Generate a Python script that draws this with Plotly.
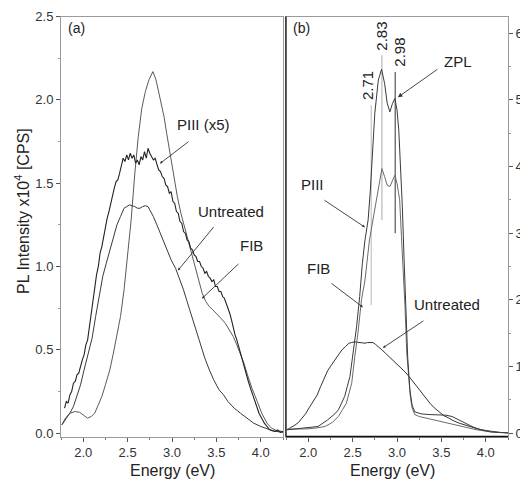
import plotly.graph_objects as go

# ---------------- data: panel (a) ----------------
piii_a_e = [1.79, 1.81, 1.83, 1.85, 1.87, 1.89, 1.91, 1.93, 1.95, 1.97, 1.99, 2.01, 2.03, 2.05, 2.07, 2.09,
            2.11, 2.13, 2.15, 2.17, 2.19, 2.21, 2.23, 2.25, 2.27, 2.29, 2.31, 2.33, 2.35, 2.37, 2.39, 2.41,
            2.43, 2.45, 2.47, 2.49, 2.51, 2.53, 2.55, 2.57, 2.59, 2.61, 2.63, 2.65, 2.67, 2.69, 2.71, 2.73,
            2.75, 2.77, 2.79, 2.81, 2.83, 2.85, 2.87, 2.89, 2.91, 2.93, 2.95, 2.97, 2.99, 3.01, 3.03, 3.05,
            3.07, 3.09, 3.11, 3.13, 3.15, 3.17, 3.19, 3.21, 3.23, 3.25, 3.27, 3.29, 3.31, 3.33, 3.35, 3.37,
            3.39, 3.41, 3.43, 3.45, 3.47, 3.49, 3.51, 3.53, 3.55, 3.57, 3.59, 3.61, 3.63, 3.65, 3.67, 3.69,
            3.71, 3.73, 3.75, 3.77, 3.80, 3.83, 3.86, 3.89, 3.92, 3.95, 3.98, 4.01, 4.04, 4.07, 4.10, 4.13,
            4.16, 4.19, 4.22, 4.25]
piii_a_v = [0.15, 0.19, 0.18, 0.23, 0.25, 0.30, 0.31, 0.35, 0.36, 0.41, 0.44, 0.47, 0.53, 0.56, 0.64, 0.70,
            0.78, 0.86, 0.95, 1.00, 1.08, 1.12, 1.18, 1.22, 1.29, 1.33, 1.38, 1.44, 1.47, 1.51, 1.52, 1.56,
            1.60, 1.65, 1.63, 1.67, 1.64, 1.68, 1.65, 1.67, 1.62, 1.64, 1.61, 1.66, 1.64, 1.69, 1.65, 1.71,
            1.68, 1.66, 1.64, 1.65, 1.61, 1.58, 1.57, 1.54, 1.53, 1.49, 1.48, 1.44, 1.45, 1.39, 1.38, 1.33,
            1.32, 1.27, 1.26, 1.21, 1.20, 1.16, 1.15, 1.11, 1.10, 1.07, 1.06, 1.03, 1.03, 1.00, 0.99, 0.96,
            0.97, 0.94, 0.93, 0.91, 0.92, 0.88, 0.88, 0.85, 0.85, 0.82, 0.81, 0.78, 0.76, 0.72, 0.68, 0.63,
            0.59, 0.56, 0.52, 0.49, 0.43, 0.37, 0.31, 0.26, 0.21, 0.17, 0.12, 0.09, 0.06, 0.04, 0.02, 0.015,
            0.01, 0.02, 0.005, 0.01]

fib_a_e = [1.76, 1.80, 1.85, 1.91, 1.96, 2.00, 2.05, 2.09, 2.13, 2.17, 2.21, 2.25, 2.30, 2.34, 2.38, 2.42,
           2.46, 2.50, 2.54, 2.58, 2.62, 2.66, 2.70, 2.74, 2.785, 2.82, 2.87, 2.91, 2.94, 2.98, 3.02, 3.06,
           3.10, 3.14, 3.18, 3.22, 3.26, 3.30, 3.34, 3.38, 3.42, 3.46, 3.50, 3.55, 3.60, 3.65, 3.69, 3.73,
           3.77, 3.81, 3.85, 3.90, 3.96, 4.01, 4.07, 4.12, 4.18, 4.25]
fib_a_v = [0.05, 0.09, 0.12, 0.13, 0.125, 0.11, 0.09, 0.10, 0.12, 0.17, 0.22, 0.29, 0.38, 0.48, 0.58, 0.70,
           0.86, 1.05, 1.28, 1.55, 1.78, 1.95, 2.05, 2.12, 2.17, 2.12, 2.00, 1.90, 1.80, 1.67, 1.54, 1.42,
           1.32, 1.24, 1.16, 1.08, 1.00, 0.92, 0.84, 0.79, 0.76, 0.74, 0.72, 0.69, 0.66, 0.62, 0.58, 0.53,
           0.48, 0.42, 0.35, 0.27, 0.19, 0.12, 0.06, 0.03, 0.015, 0.01]

untreated_e = [1.76, 1.80, 1.85, 1.89, 1.93, 1.97, 2.01, 2.05, 2.10, 2.14, 2.18, 2.22, 2.26, 2.30, 2.34, 2.38,
               2.42, 2.46, 2.49, 2.52, 2.55, 2.58, 2.61, 2.64, 2.67, 2.70, 2.73, 2.76, 2.79, 2.83, 2.87, 2.91,
               2.95, 2.99, 3.04, 3.09, 3.13, 3.17, 3.21, 3.25, 3.29, 3.33, 3.37, 3.42, 3.47, 3.53, 3.58, 3.63,
               3.70, 3.77, 3.85, 3.92, 4.00, 4.07, 4.15, 4.25]
untreated_v = [0.05, 0.08, 0.12, 0.16, 0.22, 0.29, 0.38, 0.47, 0.57, 0.70, 0.83, 0.94, 1.02, 1.10, 1.18, 1.25,
               1.30, 1.35, 1.36, 1.37, 1.365, 1.36, 1.35, 1.35, 1.36, 1.365, 1.36, 1.33, 1.30, 1.25, 1.20, 1.15,
               1.09, 1.04, 0.99, 0.92, 0.86, 0.79, 0.72, 0.65, 0.58, 0.51, 0.45, 0.38, 0.32, 0.26, 0.23, 0.19,
               0.15, 0.12, 0.085, 0.06, 0.04, 0.025, 0.012, 0.005]

# ---------------- data: panel (b) ----------------
piii_b_e = [1.76, 1.90, 2.00, 2.11, 2.22, 2.30, 2.34, 2.38, 2.41, 2.44, 2.47, 2.51, 2.545, 2.58, 2.61, 2.64,
            2.675, 2.70, 2.72, 2.75, 2.79, 2.826, 2.86, 2.89, 2.92, 2.95, 2.976, 3.00, 3.02, 3.04, 3.06, 3.08,
            3.10, 3.12, 3.145, 3.17, 3.20, 3.27, 3.35, 3.45, 3.55, 3.62, 3.70, 3.78, 3.86, 3.95, 4.05, 4.15, 4.25]
piii_b_v = [0.05, 0.07, 0.08, 0.10, 0.20, 0.29, 0.35, 0.46, 0.55, 0.70, 0.85, 1.25, 1.60, 2.05, 2.55, 2.90,
            3.20, 3.65, 4.05, 4.80, 5.30, 5.46, 5.25, 4.95, 4.82, 4.95, 5.02, 4.85, 4.55, 4.00, 3.40, 2.60,
            1.80, 1.15, 0.65, 0.42, 0.32, 0.29, 0.28, 0.27, 0.27, 0.25, 0.20, 0.14, 0.09, 0.05, 0.02, 0.01, 0.005]

fib_b_e = [1.76, 1.90, 2.00, 2.10, 2.19, 2.27, 2.34, 2.39, 2.43, 2.46, 2.49, 2.525, 2.56, 2.60, 2.64, 2.69,
           2.75, 2.81, 2.83, 2.86, 2.89, 2.92, 2.95, 2.976, 3.00, 3.03, 3.05, 3.07, 3.09, 3.11, 3.13, 3.15,
           3.17, 3.20, 3.25, 3.35, 3.50, 3.65, 3.78, 3.90, 4.05, 4.25]
fib_b_v = [0.06, 0.06, 0.065, 0.08, 0.10, 0.16, 0.25, 0.36, 0.45, 0.60, 0.75, 1.15, 1.50, 2.00, 2.30, 2.90,
           3.35, 3.80, 3.97, 3.85, 3.72, 3.70, 3.80, 3.87, 3.75, 3.50, 2.95, 2.50, 1.90, 1.20, 0.80, 0.55,
           0.38, 0.28, 0.25, 0.22, 0.18, 0.13, 0.09, 0.05, 0.02, 0.005]

peak_pos = [2.71, 2.83, 2.98]
peak_labels = ["2.71", "2.83", "2.98"]
peak_line_lo = [1.92, 3.2, 3.0]
peak_line_hi = [4.92, 5.67, 5.42]
peak_line_colors = ["#c4c4c4", "#b8b8b8", "#555555"]
peak_label_shift = [-4, 0, 4]

x_ticks = [2.0, 2.5, 3.0, 3.5, 4.0]

W, H = 520, 482
FONT = "Liberation Sans, Arial, sans-serif"

fig = go.Figure()

# panel (a)
fig.add_trace(go.Scatter(x=fib_a_e, y=fib_a_v, mode="lines", line=dict(color="#5a5a5a", width=1),
                         xaxis="x", yaxis="y", showlegend=False, hoverinfo="skip"))
fig.add_trace(go.Scatter(x=untreated_e, y=untreated_v, mode="lines", line=dict(color="#3a3a3a", width=1),
                         xaxis="x", yaxis="y", showlegend=False, hoverinfo="skip"))
fig.add_trace(go.Scatter(x=piii_a_e, y=piii_a_v, mode="lines", line=dict(color="#222222", width=1.1),
                         xaxis="x", yaxis="y", showlegend=False, hoverinfo="skip"))

# panel (b) marker lines
for p, lo, hi, c in zip(peak_pos, peak_line_lo, peak_line_hi, peak_line_colors):
    fig.add_trace(go.Scatter(x=[p, p], y=[lo, hi], mode="lines", line=dict(color=c, width=1.2),
                             xaxis="x2", yaxis="y2", showlegend=False, hoverinfo="skip"))

fig.add_trace(go.Scatter(x=untreated_e, y=untreated_v, mode="lines", line=dict(color="#333333", width=1),
                         xaxis="x2", yaxis="y2", showlegend=False, hoverinfo="skip"))
fig.add_trace(go.Scatter(x=fib_b_e, y=fib_b_v, mode="lines", line=dict(color="#6a6a6a", width=1),
                         xaxis="x2", yaxis="y2", showlegend=False, hoverinfo="skip"))
fig.add_trace(go.Scatter(x=piii_b_e, y=piii_b_v, mode="lines", line=dict(color="#3a3a3a", width=1),
                         xaxis="x2", yaxis="y2", showlegend=False, hoverinfo="skip"))


def px(xp):
    return xp / W


def py(yp):
    return 1 - yp / H


ydom = [py(436.5), py(16.6)]
axis_common = dict(showgrid=False, zeroline=False, showline=True, linecolor="#9a9a9a", linewidth=1,
                   ticks="outside", tickcolor="#555", ticklen=4, tickwidth=1, automargin=False,
                   tickfont=dict(family=FONT, size=13, color="#333"))

fig.update_layout(
    width=W, height=H, margin=dict(l=0, r=0, t=0, b=0, pad=0), autosize=False,
    paper_bgcolor="white", plot_bgcolor="white",
    xaxis=dict(domain=[px(61), px(283)], range=[1.75, 4.25], anchor="y", mirror=True,
               tickvals=x_ticks, tickformat=".1f",
               minor=dict(dtick=0.25, tick0=0, ticks="outside", ticklen=2, tickcolor="#777"),
               **axis_common),
    yaxis=dict(domain=ydom, range=[-0.02, 2.5], anchor="x", mirror=True, dtick=0.5, tickformat=".1f",
               minor=dict(dtick=0.25, tick0=0, ticks="outside", ticklen=2, tickcolor="#999"),
               **axis_common),
    xaxis2=dict(domain=[px(286), px(508)], range=[1.75, 4.25], anchor="y2", mirror=True,
                tickvals=x_ticks, tickformat=".1f",
                minor=dict(dtick=0.25, tick0=0, ticks="outside", ticklen=2, tickcolor="#777"),
                **axis_common),
    yaxis2=dict(domain=ydom, range=[-0.05, 6.25], anchor="x2", side="right", mirror=True, dtick=1,
                minor=dict(dtick=0.5, tick0=0, ticks="outside", ticklen=2, tickcolor="#999"),
                **axis_common),
)

# black left and bottom frame lines of panel (b)
fig.add_shape(type="line", xref="x2 domain", yref="y2 domain", x0=0, x1=0, y0=0, y1=1,
              line=dict(color="#111", width=1.3))
fig.add_shape(type="line", xref="x2 domain", yref="y2 domain", x0=0, x1=1, y0=0, y1=0,
              line=dict(color="#111", width=1.3))

ann = []


def text(xp, yp, s, size=15, angle=0):
    ann.append(dict(x=px(xp), y=py(yp), xref="paper", yref="paper", text=s, showarrow=False,
                    textangle=angle, font=dict(family=FONT, size=size, color="#222"),
                    xanchor="center", yanchor="middle"))


def arrow(xa, ya, x, y, ax, ay, size=0.6, head=2):
    ann.append(dict(x=x, y=y, xref=xa, yref=ya, text="", showarrow=True, ax=ax, ay=ay,
                    axref="pixel", ayref="pixel", arrowhead=head, arrowsize=size, arrowwidth=0.9,
                    arrowcolor="#333", standoff=0, startstandoff=0))


# axis titles
text(22, 211, "PL Intensity x10<sup>4</sup> [CPS]", size=16, angle=-90)
text(172, 470, "Energy (eV)", size=16)
text(392, 470, "Energy (eV)", size=16)

# panel labels
text(76, 28, "(a)", size=14)
text(301, 28, "(b)", size=14)

# panel (a) labels and arrows
text(203, 125, "PIII (x5)")
text(231, 211, "Untreated")
text(251, 246, "FIB")
arrow("x", "y", 2.864, 1.618, 30, -23)
arrow("x", "y", 3.066, 0.976, 37, -45)
arrow("x", "y", 3.337, 0.808, 38, -36)

# panel (b) labels and arrows
text(458, 62, "ZPL")
text(312, 185, "PIII")
text(318, 268, "FIB")
text(447, 304, "Untreated")
arrow("x2", "y2", 3.01, 5.04, 41, -29, size=1.0)
arrow("x2", "y2", 2.639, 3.09, -42, -28)
arrow("x2", "y2", 2.616, 1.89, -33, -25)
arrow("x2", "y2", 2.841, 1.28, 42, -28)

# peak position labels
for p, hi, lab, sh in zip(peak_pos, peak_line_hi, peak_labels, peak_label_shift):
    ann.append(dict(x=p, y=hi, xref="x2", yref="y2", text=lab, showarrow=False, textangle=-90,
                    xanchor="center", yanchor="bottom", xshift=sh, yshift=3,
                    font=dict(family=FONT, size=15, color="#222")))

fig.update_layout(annotations=ann, hovermode=False, dragmode=False)

fig.write_html(
    "out.html",
    config={"displayModeBar": False, "staticPlot": True},
    post_script="document.body.style.margin='0';document.body.style.overflow='hidden';"
                "document.documentElement.style.overflow='hidden';",
)
